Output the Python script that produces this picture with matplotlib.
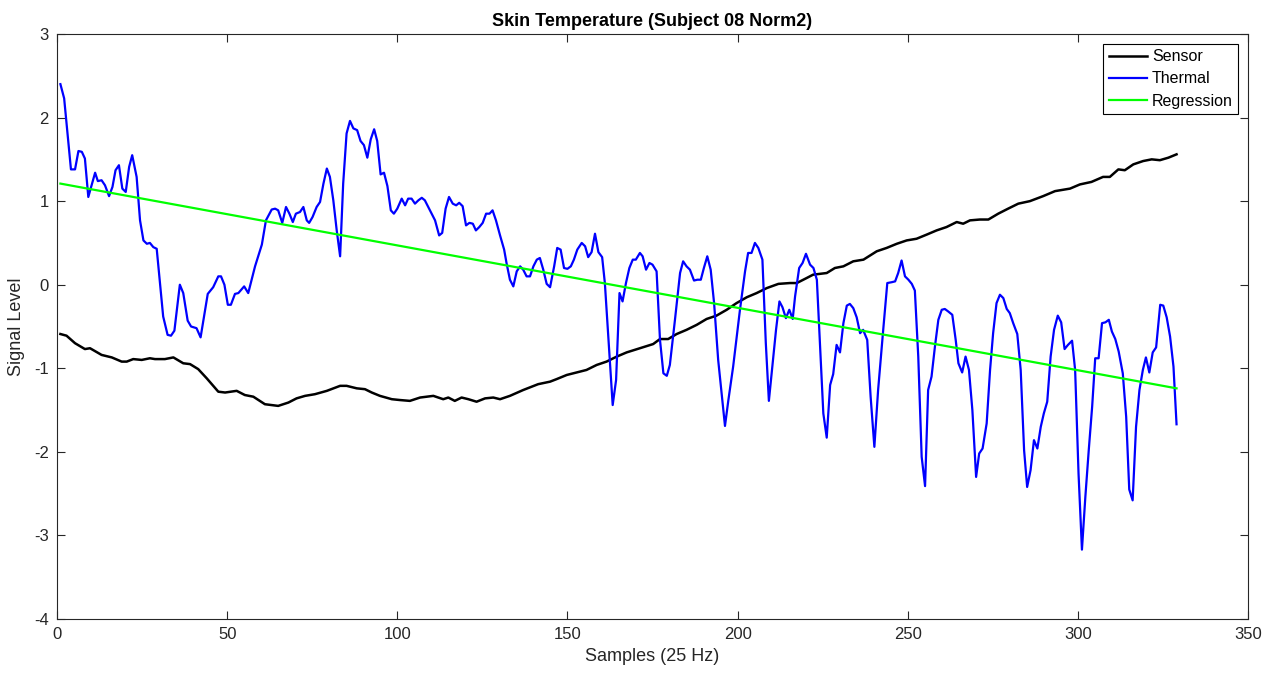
import matplotlib
matplotlib.use('Agg')
import matplotlib.pyplot as plt

plt.rcParams['font.family'] = ['Liberation Sans', 'DejaVu Sans']
plt.rcParams['axes.unicode_minus'] = False

# thermal camera signal (sample index, level)
thermal_x = [1, 2.1, 4.1, 5.3, 6.3, 7.3, 8.2, 9.2, 11.2, 12, 13.1, 14.1, 15.3, 16.3, 17.2, 18.2, 19.2, 20.2,
             21.2, 22.1, 23.4, 24.4, 25.4, 26.4, 27.3, 28.3, 29.3, 31.2, 32.5, 33.5, 34.5, 36.1, 37.1, 38.4,
             39.4, 41.0, 42.2, 44.3, 45.9, 47.4, 48.2, 49.2, 50.2, 51.1, 52.3, 53.3, 55.0, 56.2, 58.2, 60.2,
             61.4, 63.1, 64.1, 65.0, 66.2, 67.3, 68.3, 69.3, 70.2, 71.4, 72.4, 73.4, 74.1, 75.1, 76.3, 77.3,
             78.3, 79.3, 80.2, 81.2, 82.2, 83.2, 84.1, 85.1, 86.1, 87.1, 88.2, 89.2, 90.2, 91.2, 92.2, 93.2,
             94.1, 95.1, 96.1, 97.1, 98.1, 99.0, 100.0, 101.3, 102.3, 103.2, 104.2, 105.2, 106.2, 107.2,
             108.1, 109.1, 110.1, 111.1, 112.3, 113.2, 114.2, 115.2, 116.3, 117.3, 118.2, 119.2, 120.2,
             121.2, 122.2, 123.1, 124.1, 125.1, 126.1, 127.1, 128.0, 129.0, 130.2, 131.4, 132.1, 133.1,
             134.1, 135.1, 136.1, 137.0, 138.0, 139.0, 140.0, 141.0, 141.9, 142.9, 143.9, 144.9, 146.1,
             147.0, 148.0, 149.0, 150.0, 151.0, 151.9, 152.9, 154.2, 155.2, 156.1, 157.1, 158.1, 159.1,
             160.2, 161.0, 161.7, 163.3, 164.3, 165.3, 166.2, 167.2, 168.2, 169.2, 170.1, 171.3, 172.1,
             173.1, 174.1, 175.0, 176.2, 177.2, 178.2, 179.2, 180.1, 181.6, 183.1, 184.0, 185.0, 186.0,
             187.2, 188.2, 189.2, 190.1, 191.1, 192.1, 193.1, 194.3, 195.3, 196.3, 197.3, 198.7, 200.7,
             202.2, 203.1, 204.1, 205.1, 206.1, 207.3, 208.3, 209.2, 210.2, 211.3, 212.3, 213.2, 214.2,
             215.2, 216.2, 216.9, 218.1, 219.1, 220.1, 221.3, 222.3, 223.3, 224.2, 225.2, 226.2, 227.2,
             228.1, 229.1, 230.1, 231.1, 232.1, 233.0, 234.0, 235.0, 236.0, 236.9, 238.1, 239.1, 240.2,
             241.3, 242.8, 244.0, 245.3, 246.3, 247.2, 248.2, 249.2, 250.2, 251.2, 252.1, 253.1, 254.1,
             255.1, 256.0, 257.0, 258.0, 259.0, 260.0, 260.9, 261.9, 263.1, 264.1, 264.9, 266.0, 267.0,
             268.0, 269.0, 270.1, 271.0, 272.0, 273.2, 274.2, 275.1, 276.1, 277.1, 278.1, 279.1, 280.0,
             281.0, 282.2, 283.2, 284.2, 285.1, 286.1, 287.1, 288.1, 289.1, 290.0, 291.0, 292.0, 293.0,
             294.1, 295.1, 296.1, 297.1, 298.3, 299.2, 300.2, 301.2, 302.2, 303.2, 304.2, 305.1, 306.1,
             307.1, 308.1, 309.1, 310.0, 311.0, 312.0, 313.2, 314.2, 315.1, 316.1, 317.1, 318.1, 319.1,
             320.0, 321.0, 322.0, 323.0, 324.2, 325.1, 326.1, 327.1, 328.1, 329.0]
thermal_y = [2.40, 2.23, 1.38, 1.38, 1.60, 1.59, 1.51, 1.05, 1.34, 1.24, 1.25, 1.19, 1.06, 1.17, 1.37, 1.43,
             1.15, 1.11, 1.41, 1.55, 1.29, 0.77, 0.53, 0.49, 0.50, 0.45, 0.43, -0.38, -0.60, -0.61, -0.55,
             0.0, -0.10, -0.43, -0.50, -0.52, -0.63, -0.11, -0.03, 0.10, 0.10, 0.0, -0.24, -0.24, -0.11,
             -0.10, -0.02, -0.10, 0.22, 0.48, 0.77, 0.90, 0.91, 0.89, 0.74, 0.93, 0.85, 0.75, 0.85, 0.87,
             0.93, 0.77, 0.74, 0.81, 0.93, 0.99, 1.21, 1.39, 1.29, 1.01, 0.65, 0.34, 1.21, 1.81, 1.96, 1.87,
             1.85, 1.72, 1.67, 1.52, 1.74, 1.86, 1.72, 1.32, 1.34, 1.18, 0.89, 0.85, 0.91, 1.03, 0.95, 1.03,
             1.03, 0.97, 1.01, 1.04, 1.01, 0.93, 0.85, 0.77, 0.59, 0.62, 0.91, 1.05, 0.97, 0.95, 0.98, 0.94,
             0.71, 0.74, 0.73, 0.65, 0.69, 0.74, 0.85, 0.85, 0.89, 0.77, 0.59, 0.42, 0.26, 0.06, -0.02, 0.16,
             0.22, 0.18, 0.10, 0.10, 0.22, 0.30, 0.32, 0.18, 0.01, -0.03, 0.22, 0.44, 0.42, 0.20, 0.19, 0.22,
             0.30, 0.42, 0.50, 0.46, 0.33, 0.39, 0.61, 0.39, 0.33, 0.02, -0.42, -1.44, -1.14, -0.10, -0.20,
             0.02, 0.20, 0.30, 0.30, 0.38, 0.34, 0.18, 0.26, 0.24, 0.16, -0.66, -1.06, -1.09, -0.96, -0.42,
             0.14, 0.28, 0.22, 0.18, 0.05, 0.06, 0.06, 0.20, 0.34, 0.18, -0.22, -0.90, -1.30, -1.69, -1.38,
             -0.98, -0.30, 0.16, 0.38, 0.38, 0.50, 0.44, 0.30, -0.70, -1.39, -0.98, -0.54, -0.20, -0.27,
             -0.40, -0.30, -0.41, -0.14, 0.20, 0.26, 0.37, 0.24, 0.20, 0.06, -0.70, -1.54, -1.83, -1.20,
             -1.07, -0.72, -0.81, -0.46, -0.25, -0.23, -0.28, -0.39, -0.58, -0.54, -0.66, -1.34, -1.94,
             -1.26, -0.54, 0.02, 0.03, 0.04, 0.14, 0.29, 0.10, 0.06, 0.01, -0.07, -0.86, -2.06, -2.41, -1.26,
             -1.10, -0.74, -0.42, -0.30, -0.29, -0.32, -0.36, -0.66, -0.94, -1.05, -0.86, -1.02, -1.50,
             -2.30, -2.02, -1.96, -1.66, -1.02, -0.58, -0.22, -0.12, -0.16, -0.29, -0.34, -0.46, -0.59,
             -1.02, -1.98, -2.42, -2.22, -1.86, -1.96, -1.70, -1.54, -1.40, -0.86, -0.54, -0.37, -0.45,
             -0.77, -0.72, -0.67, -1.02, -2.26, -3.17, -2.54, -1.98, -1.46, -0.88, -0.88, -0.46, -0.45,
             -0.42, -0.56, -0.65, -0.80, -1.06, -1.58, -2.45, -2.58, -1.70, -1.26, -1.02, -0.87, -1.05,
             -0.81, -0.75, -0.24, -0.25, -0.39, -0.62, -0.98, -1.67]

# contact sensor signal
sensor_x = [1, 2.8, 5.3, 8.2, 9.7, 13.1, 16.1, 19.0, 20.5, 22.4, 24.9, 27.3, 28.8, 31.7, 34.2, 37.1, 39.1,
            41.5, 44.0, 47.4, 49.4, 52.8, 55.2, 57.7, 61.1, 65.0, 68.0, 70.4, 72.9, 75.8, 79.3, 83.2, 85.1,
            88.1, 90.5, 92.5, 94.9, 98.4, 100.8, 103.7, 106.7, 110.6, 113.5, 115.0, 116.9, 118.9, 120.9,
            123.3, 125.8, 128.2, 130.2, 133.1, 137.0, 141.4, 144.9, 146.8, 149.8, 152.7, 155.6, 158.6,
            161.5, 164.5, 167.4, 171.3, 175.2, 177.2, 179.6, 182.1, 185.0, 188.0, 190.9, 193.8, 196.8,
            199.7, 202.7, 205.6, 208.6, 212.0, 215.4, 217.4, 220.3, 222.2, 226.2, 228.6, 231.1, 234.0,
            237.0, 240.9, 243.8, 246.8, 249.7, 252.6, 255.6, 258.5, 261.4, 264.4, 266.3, 268.3, 271.2,
            273.7, 276.6, 279.5, 282.5, 285.9, 289.8, 293.3, 297.7, 300.6, 304.0, 307.4, 309.4, 311.9,
            313.8, 316.3, 319.2, 321.7, 324.1, 326.6, 329.0]
sensor_y = [-0.59, -0.61, -0.70, -0.77, -0.76, -0.84, -0.87, -0.92, -0.92, -0.89, -0.90, -0.88, -0.89,
            -0.89, -0.87, -0.94, -0.95, -1.01, -1.12, -1.28, -1.29, -1.27, -1.32, -1.34, -1.43, -1.45,
            -1.41, -1.36, -1.33, -1.31, -1.27, -1.21, -1.21, -1.24, -1.25, -1.29, -1.33, -1.37, -1.38,
            -1.39, -1.35, -1.33, -1.37, -1.35, -1.39, -1.35, -1.37, -1.40, -1.36, -1.35, -1.37, -1.33,
            -1.26, -1.19, -1.16, -1.13, -1.08, -1.05, -1.02, -0.96, -0.92, -0.86, -0.81, -0.76, -0.71,
            -0.65, -0.65, -0.59, -0.54, -0.48, -0.41, -0.37, -0.30, -0.22, -0.15, -0.10, -0.04, 0.01,
            0.02, 0.02, 0.08, 0.12, 0.14, 0.20, 0.22, 0.28, 0.30, 0.40, 0.44, 0.49, 0.53, 0.55, 0.60, 0.65,
            0.69, 0.75, 0.73, 0.77, 0.78, 0.78, 0.85, 0.91, 0.97, 1.00, 1.06, 1.12, 1.15, 1.20, 1.23,
            1.29, 1.29, 1.38, 1.37, 1.44, 1.48, 1.50, 1.49, 1.52, 1.56]

# linear fit endpoints
reg_x = [1, 329]
reg_y = [1.21, -1.24]

x_ticks = [0, 50, 100, 150, 200, 250, 300, 350]
y_ticks = [-4, -3, -2, -1, 0, 1, 2, 3]

fig = plt.figure(figsize=(12.77, 6.8), dpi=100)
ax = fig.add_axes([57 / 1277, 1 - 619 / 680, (1248 - 57) / 1277, (619 - 34) / 680])

ax.plot(sensor_x, sensor_y, color='black', lw=1.8, label='Sensor')
ax.plot(thermal_x, thermal_y, color='blue', lw=1.6, label='Thermal')
ax.plot(reg_x, reg_y, color=(0, 1, 0), lw=1.6, label='Regression')

ax.set_xlim(0, 350)
ax.set_ylim(-4, 3)
ax.set_xticks(x_ticks)
ax.set_yticks(y_ticks)

edge = (0.15, 0.15, 0.15)
for s in ax.spines.values():
    s.set_color(edge)
    s.set_linewidth(0.8)
ax.tick_params(direction='in', top=True, right=True, length=6, width=0.8,
               colors=edge, labelsize=12, pad=6)

ax.set_title('Skin Temperature (Subject 08 Norm2)', fontsize=13, fontweight='bold', pad=6)
ax.set_xlabel('Samples (25 Hz)', fontsize=13, color=edge, labelpad=4)
ax.set_ylabel('Signal Level', fontsize=13, color=edge, labelpad=6)

leg = ax.legend(loc='upper right', fontsize=11.5, fancybox=False, framealpha=1,
                edgecolor='black', borderpad=0.35, handlelength=2.4, handletextpad=0.3,
                labelspacing=0.45, borderaxespad=0.6)
leg.get_frame().set_linewidth(0.8)

fig.savefig('out.png', dpi=100)
